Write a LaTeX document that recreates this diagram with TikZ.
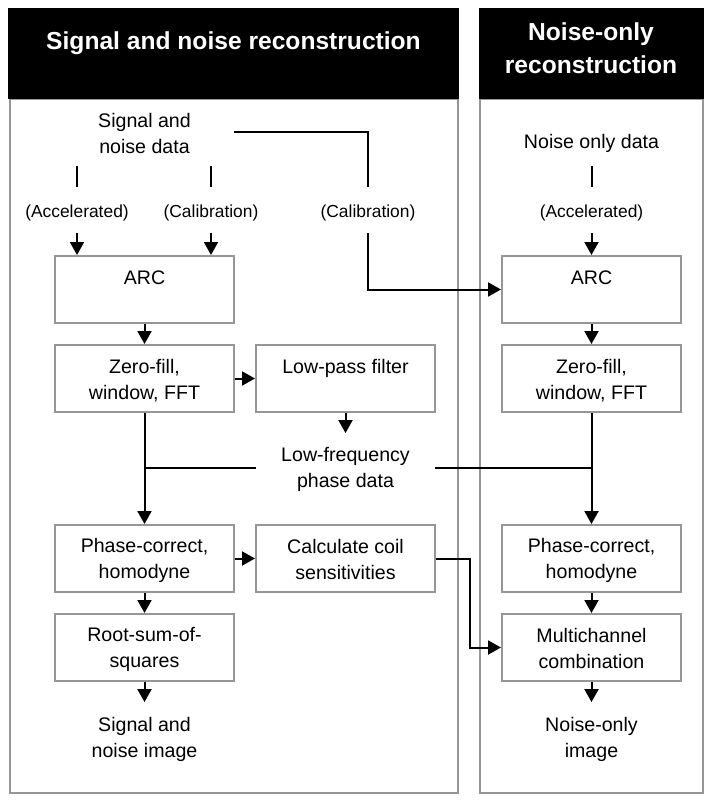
\documentclass[tikz,border=0pt]{standalone}
\usepackage{fontspec}
\setmainfont{Liberation Sans}
\usetikzlibrary{arrows.meta}
\definecolor{boxgray}{RGB}{150,150,150}
\newcommand\lnstrut{\rule[-2.6pt]{0pt}{20.8pt}}
\newcommand\ttstrut{\rule[-3pt]{0pt}{21pt}}
\begin{document}
\begin{tikzpicture}[x=1pt,y=-1pt,
  txt/.style={font=\fontsize{19.6}{26}\selectfont, align=center, inner sep=0pt},
  title/.style={font=\fontsize{24.6}{33}\selectfont\bfseries, text=white, align=center, inner sep=0pt},
  box/.style={txt, draw=boxgray, line width=2pt, minimum width=179pt, minimum height=67pt},
  lab/.style={txt, font=\fontsize{17.4}{24}\selectfont, minimum height=46pt},
  panel/.style={draw=boxgray, line width=2pt},
  ln/.style={line width=2pt},
  arr/.style={line width=2pt, -{Triangle[width=14pt,length=13pt]}}]
\useasboundingbox (0,0) rectangle (714,804);
% panels
\draw[panel] (9.5,99) rectangle (457.5,793);
\draw[panel] (479.5,99) rectangle (703,793);
\fill[black] (8,8) rectangle (458.5,99);
\fill[black] (478.5,8) rectangle (704,99);
\node[title, anchor=base] (t1) at (233.5,49) {Signal and noise reconstruction};
\node[title] (t2) at (591,49.5) {\ttstrut Noise-only\\\ttstrut reconstruction};
% left column inputs
\node[txt, minimum width=179pt] (snd) at (144.5,132.2) {\lnstrut Signal and\\\lnstrut noise data};
\node[lab] (accL) at (77,210) {\lnstrut(Accelerated)};
\node[lab] (calL) at (211,210) {\lnstrut(Calibration)};
\node[lab] (calR) at (368,210) {\lnstrut(Calibration)};
% right column inputs
\node[txt] (nod) at (591.5,141.2) {\lnstrut Noise only data};
\node[lab] (accR) at (591.5,210) {\lnstrut(Accelerated)};
% boxes
\node[box] (arcL) at (144.5,289.5) {\lnstrut ARC\\\lnstrut};
\node[box] (zfL) at (144.5,378.5) {\lnstrut Zero-fill,\\\lnstrut window, FFT};
\node[box] (lp) at (345.5,378.5) {\lnstrut Low-pass filter\\\lnstrut};
\node[txt, minimum width=179pt, inner ysep=9.8pt] (lf) at (345.5,467.2) {\lnstrut Low-frequency\\\lnstrut phase data};
\node[box] (pcL) at (144.5,558.5) {\lnstrut Phase-correct,\\\lnstrut homodyne};
\node[box] (calc) at (345.5,558.5) {\lnstrut Calculate coil\\\lnstrut sensitivities};
\node[box] (rss) at (144.5,647.5) {\lnstrut Root-sum-of-\\\lnstrut squares};
\node[txt, inner ysep=10.8pt] (outL) at (144.5,737.2) {\lnstrut Signal and\\\lnstrut noise image};
\node[box] (arcR) at (591.5,289.5) {\lnstrut ARC\\\lnstrut};
\node[box] (zfR) at (591.5,378.5) {\lnstrut Zero-fill,\\\lnstrut window, FFT};
\node[box] (pcR) at (591.5,558.5) {\lnstrut Phase-correct,\\\lnstrut homodyne};
\node[box] (mc) at (591.5,647.5) {\lnstrut Multichannel\\\lnstrut combination};
\node[txt, inner ysep=10.8pt] (outR) at (591.5,737.2) {\lnstrut Noise-only\\\lnstrut image};
% connectors
\draw[ln] ([yshift=21pt]accL.north) -- (accL.north);
\draw[ln] ([yshift=21pt]calL.north) -- (calL.north);
\draw[ln] ([yshift=21pt]accR.north) -- (accR.north);
\draw[arr] (accL.south) -- (accL.south |- arcL.north);
\draw[arr] (calL.south) -- (calL.south |- arcL.north);
\draw[arr] (accR.south) -- (arcR.north);
\draw[ln] (snd.east) -| (calR.north);
\draw[arr] (calR.south) |- (arcR.west);
\draw[arr] (arcL) -- (zfL);
\draw[arr] (arcR) -- (zfR);
\draw[arr] (zfL) -- (lp);
\draw[arr] (lp) -- (lf.north);
\draw[arr] (zfL) -- (pcL);
\draw[arr] (zfR) -- (pcR);
\draw[ln] (lf.west |- 0,468) -- (zfL.south |- 0,468);
\draw[ln] (lf.east |- 0,468) -- (zfR.south |- 0,468);
\draw[arr] (pcL) -- (calc);
\draw[arr] (calc.east) -- ++(33.5,0) |- (mc.west);
\draw[arr] (pcL) -- (rss);
\draw[arr] (pcR) -- (mc);
\draw[arr] (rss) -- (outL.north);
\draw[arr] (mc) -- (outR.north);
\end{tikzpicture}
\end{document}
